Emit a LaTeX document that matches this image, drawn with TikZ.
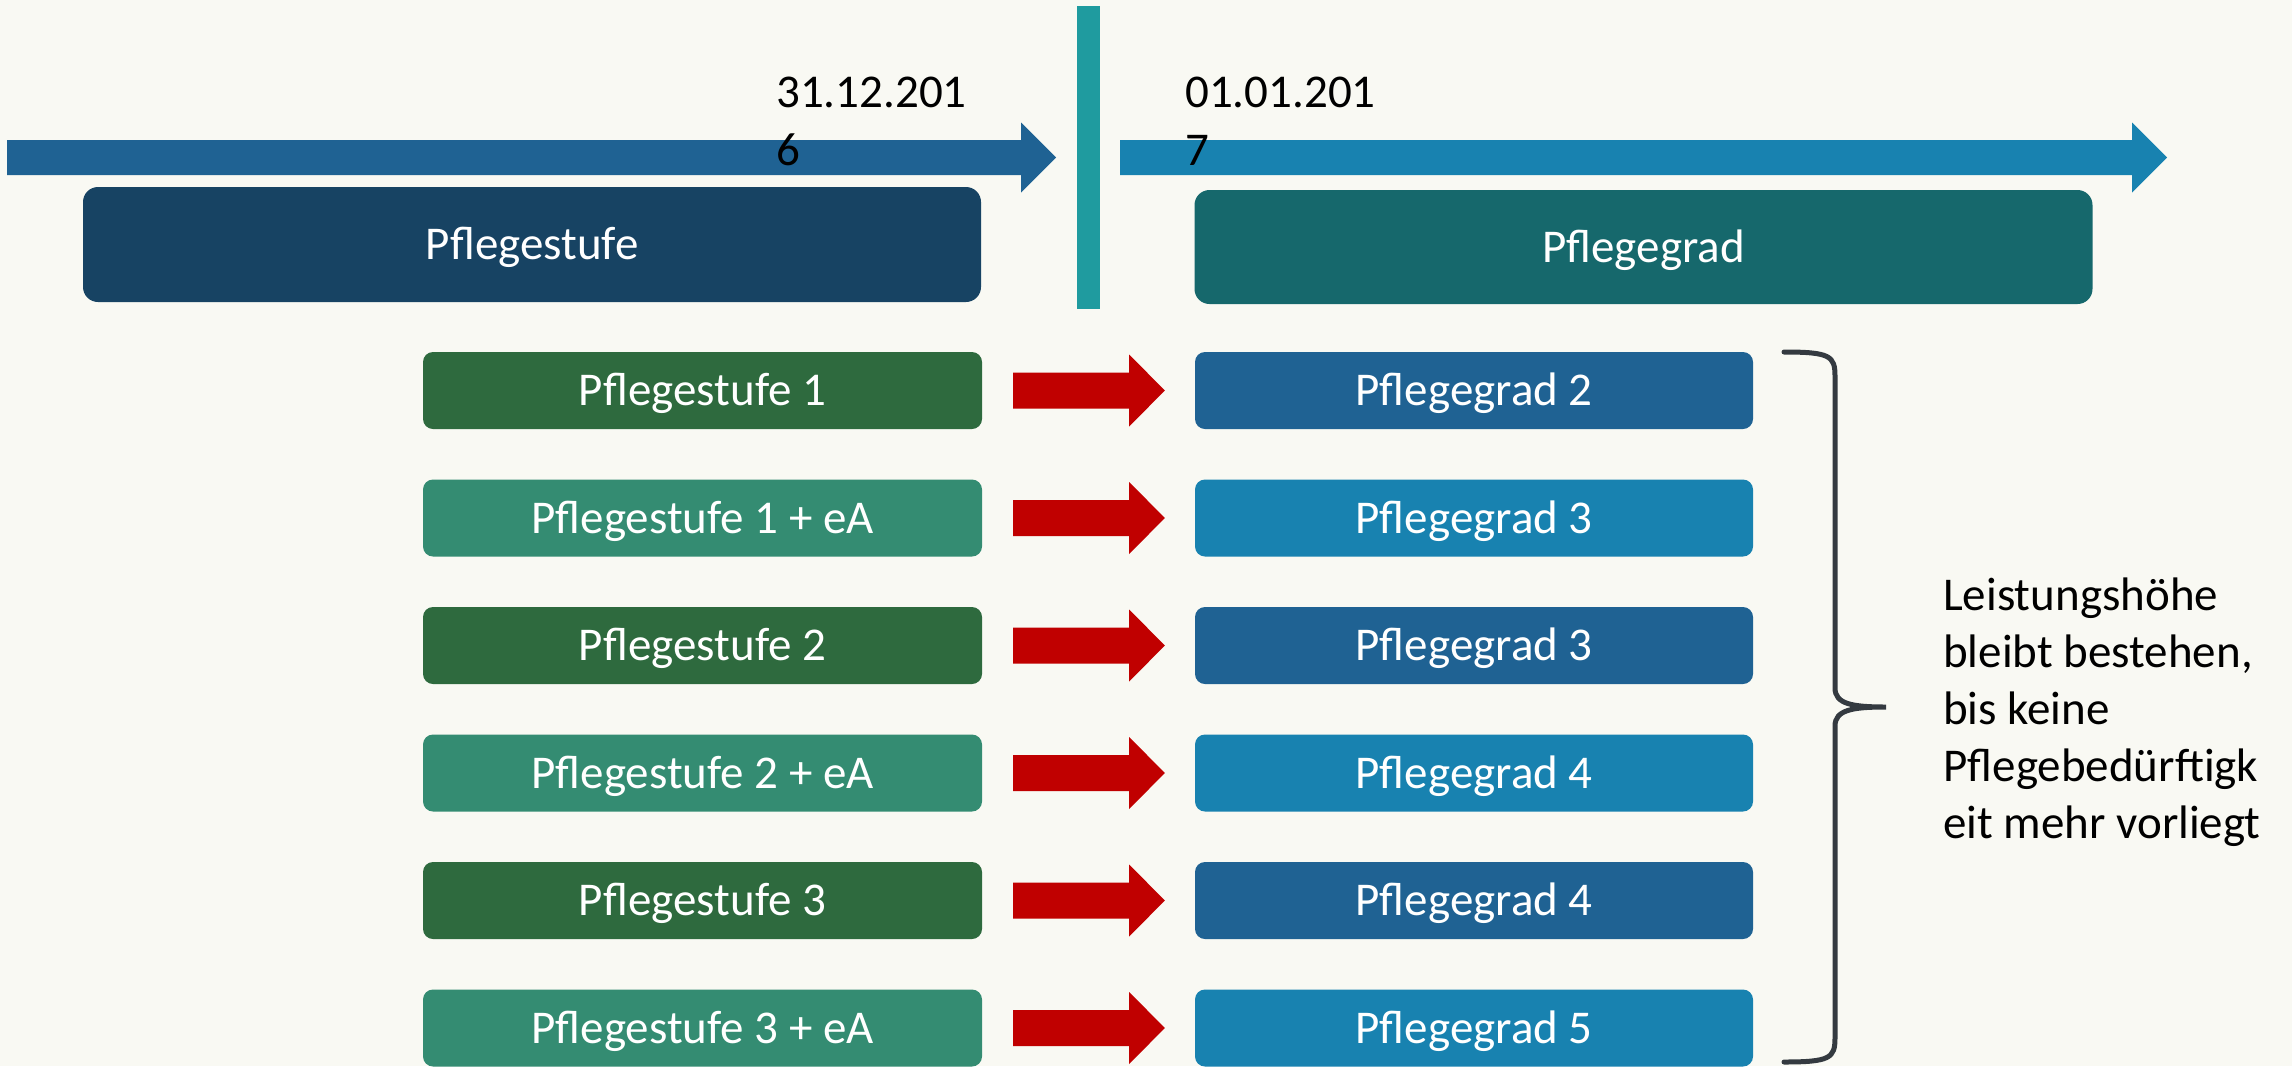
\documentclass[tikz,border=0pt]{standalone}
\usepackage{fontspec}
\setmainfont{Carlito}
\usetikzlibrary{calc}

\definecolor{paper}{HTML}{F9F9F3}
\definecolor{oldblue}{HTML}{1F6293}
\definecolor{newblue}{HTML}{1882B0}
\definecolor{cutteal}{HTML}{1F9B9F}
\definecolor{stufehead}{HTML}{174363}
\definecolor{gradhead}{HTML}{16686C}
\definecolor{stufedark}{HTML}{2E6A3E}
\definecolor{stufelight}{HTML}{348C72}
\definecolor{arrowred}{HTML}{C00000}
\definecolor{bracegray}{HTML}{343A40}

\begin{document}
\begin{tikzpicture}[x=1pt, y=-1pt,
  bigfont/.style={font=\fontsize{47}{57.5}\selectfont},
  header/.style={bigfont, rounded corners=15pt, inner sep=0pt, text=white,
    text height=30pt, text depth=0pt, minimum width=898pt, minimum height=115pt},
  rowbox/.style={bigfont, rounded corners=10pt, inner sep=0pt, text=white,
    text height=30pt, text depth=0pt, minimum width=559pt, minimum height=77pt},
  % multi-line labels: the base anchor sits on the last line
  datelabel/.style={bigfont, anchor=base west, align=left, inner sep=0pt, text=black},
  redarrow/.style={fill=arrowred},
]
% page and background
\useasboundingbox (0,0) rectangle (2292,1066);
\fill[paper] (0,0) rectangle (2292,1066);

% timeline before and after the change
\fill[oldblue] (7,140) -- (1021,140) -- (1021,122.5) -- (1056,157.5)
  -- (1021,192.5) -- (1021,175) -- (7,175) -- cycle;
\fill[newblue] (1120,140) -- (2132,140) -- (2132,122.5) -- (2167,157.5)
  -- (2132,192.5) -- (2132,175) -- (1120,175) -- cycle;
\fill[cutteal] (1077,6) rectangle (1100,309);

% dates at the cut
\node[datelabel] (dold) at (776,165) {31.12.201\\6};
\node[datelabel] (dnew) at (1185,165) {01.01.201\\7};

% column headers
\node[header, fill=stufehead] (stufe) at (532,244.5) {Pflegestufe};
\node[header, fill=gradhead, minimum height=114pt] (grad) at (1643.5,247) {Pflegegrad};

% transfer rows
\foreach \i/\ltext/\rtext/\lcol/\rcol in {
  1/{Pflegestufe 1}/{Pflegegrad 2}/stufedark/oldblue,
  2/{Pflegestufe 1 + eA}/{Pflegegrad 3}/stufelight/newblue,
  3/{Pflegestufe 2}/{Pflegegrad 3}/stufedark/oldblue,
  4/{Pflegestufe 2 + eA}/{Pflegegrad 4}/stufelight/newblue,
  5/{Pflegestufe 3}/{Pflegegrad 4}/stufedark/oldblue,
  6/{Pflegestufe 3 + eA}/{Pflegegrad 5}/stufelight/newblue} {
  \pgfmathsetmacro{\ry}{390.5+127.5*(\i-1)}
  \node[rowbox, fill=\lcol] (L\i) at (702.5,\ry) {\ltext};
  \node[rowbox, fill=\rcol, minimum width=558pt] (R\i) at (1474,\ry) {\rtext};
  \fill[redarrow] ($(L\i.east)+(31,-18)$) -- ($(L\i.east)+(147,-18)$)
    -- ($(L\i.east)+(147,-36)$) -- ($(R\i.west)+(-30,0)$)
    -- ($(L\i.east)+(147,36)$) -- ($(L\i.east)+(147,18)$)
    -- ($(L\i.east)+(31,18)$) -- cycle;
}

% brace grouping all rows
\coordinate (btop) at (1784,352);
\coordinate (bbot) at (1784,1062);
\coordinate (btip) at (1886,707);
\draw[bracegray, line width=5pt, line cap=round]
  (btop) .. controls (1830,352) and (1835,356) .. (1835,376)
  -- (1835,688) .. controls (1835,704) and (1852,707) .. (btip)
  .. controls (1852,707) and (1835,710) .. (1835,726)
  -- (1835,1038) .. controls (1835,1058) and (1830,1062) .. (bbot);

\node[datelabel, font=\fontsize{47}{57}\selectfont] (note) at (1943,838)
  {Leistungshöhe\\bleibt bestehen,\\bis keine\\Pflegebedürftigk\\eit mehr vorliegt};
\end{tikzpicture}
\end{document}
